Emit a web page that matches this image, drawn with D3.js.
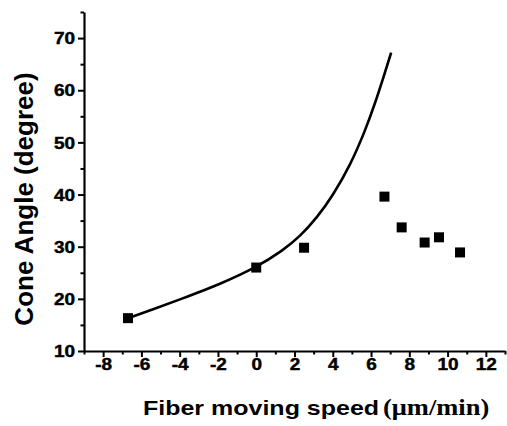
<!DOCTYPE html>
<html>
<head>
<meta charset="utf-8">
<script src="https://cdn.jsdelivr.net/npm/d3@7"></script>
<style>
  body { margin: 0; background: #fff; }
  svg { display: block; }
  .axis path, .axis line { stroke: #000; }
  .axis text { font-family: "Liberation Sans", Arial, sans-serif; font-weight: bold; fill: #000; }
</style>
</head>
<body>
<div class="chart"></div>
<script>
// measured squares
const speed = [-6.7, 0, 2.5, 6.7, 7.6, 8.8, 9.55, 10.65]
const angle = [16.3, 26.0, 29.8, 39.6, 33.7, 30.8, 31.8, 28.9]

// fitted curve
const curveX = [-6.7, -5.4, -3.6, -1.9, 0, 1.4, 2.3, 3.2, 4.0, 4.9, 5.7, 6.2, 6.65, 7.05]
const curveY = [16.3, 18.0, 20.4, 22.8, 26.0, 29.3, 32.0, 35.7, 39.8, 45.5, 52.3, 57.4, 62.5, 67.2]

const xMajor = [-8, -6, -4, -2, 0, 2, 4, 6, 8, 10, 12]
const xMinor = [-9, -7, -5, -3, -1, 1, 3, 5, 7, 9, 11, 13]
const yMajor = [10, 20, 30, 40, 50, 60, 70]
const yMinor = [15, 25, 35, 45, 55, 65, 75]

const width = 507
const height = 426
const margin = { top: 12, right: 2, bottom: 75, left: 84 }

const svg = d3.select(".chart")
    .append("svg")
    .attr("width", width)
    .attr("height", height)

const x = d3.scaleLinear()
    .domain([-9, 13])
    .range([margin.left, width - margin.right])

const y = d3.scaleLinear()
    .domain([10, 75])
    .range([height - margin.bottom, margin.top])

const squash = 0.84

// x axis
const xAxis = svg.append("g")
    .attr("class", "axis")
    .attr("transform", `translate(0,${y(10)})`)
    .call(d3.axisBottom(x).tickValues(xMajor).tickSizeInner(6).tickSizeOuter(0))

xAxis.select(".domain").attr("stroke-width", 2.2)
xAxis.selectAll(".tick line").attr("stroke-width", 2)
xAxis.selectAll(".tick text")
    .attr("font-size", 19)
    .attr("stroke", "#000")
    .attr("stroke-width", 0.5)
    .attr("y", 19.5 / squash)
    .attr("dy", 0)
    .attr("transform", `scale(1,${squash})`)
    .text(d => d < 0 ? "-" + Math.abs(d) : d)

svg.append("g")
    .attr("class", "axis")
    .attr("transform", `translate(0,${y(10)})`)
    .call(d3.axisBottom(x).tickValues(xMinor).tickSizeInner(3.5).tickSizeOuter(0).tickFormat(""))
    .call(g => g.select(".domain").remove())
    .selectAll(".tick line").attr("stroke-width", 2)

// y axis
const yAxis = svg.append("g")
    .attr("class", "axis")
    .attr("transform", `translate(${x(-9)},0)`)
    .call(d3.axisLeft(y).tickValues(yMajor).tickSizeInner(6).tickSizeOuter(0).tickPadding(3))

yAxis.select(".domain").attr("stroke-width", 2.2)
yAxis.selectAll(".tick line").attr("stroke-width", 2)
yAxis.selectAll(".tick text")
    .attr("font-size", 19)
    .attr("stroke", "#000")
    .attr("stroke-width", 0.5)
    .attr("dy", 0)
    .attr("y", 0.36 * 19)
    .attr("transform", `scale(1,${squash})`)

svg.append("g")
    .attr("class", "axis")
    .attr("transform", `translate(${x(-9)},0)`)
    .call(d3.axisLeft(y).tickValues(yMinor).tickSizeInner(3.5).tickSizeOuter(0).tickFormat(""))
    .call(g => g.select(".domain").remove())
    .selectAll(".tick line").attr("stroke-width", 2)

// fitted curve
const line = d3.line()
    .x(d => x(d[0]))
    .y(d => y(d[1]))
    .curve(d3.curveBasis)

svg.append("path")
    .datum(d3.zip(curveX, curveY))
    .attr("d", line)
    .attr("fill", "none")
    .attr("stroke", "#000")
    .attr("stroke-width", 2.6)

// data squares
const s = 10
svg.append("g")
    .selectAll("rect")
    .data(d3.zip(speed, angle))
    .join("rect")
    .attr("x", d => x(d[0]) - s / 2)
    .attr("y", d => y(d[1]) - s / 2)
    .attr("width", s)
    .attr("height", s)
    .attr("fill", "#000")

// axis titles
svg.append("text")
    .attr("transform", `translate(143,415) scale(1,${squash})`)
    .attr("font-family", "Liberation Sans, Arial, sans-serif")
    .attr("font-weight", "bold")
    .attr("font-size", 25)
    .text("Fiber moving speed")

svg.append("text")
    .attr("transform", `translate(383,415) scale(1,${squash})`)
    .attr("font-family", "Liberation Serif, Times New Roman, serif")
    .attr("font-weight", "bold")
    .attr("font-size", 26.5)
    .text("(\u03bcm/min)")

svg.append("text")
    .attr("transform", "translate(33,199) rotate(-90)")
    .attr("text-anchor", "middle")
    .attr("font-family", "Liberation Sans, Arial, sans-serif")
    .attr("font-weight", "bold")
    .attr("font-size", 26)
    .text("Cone Angle (degree)")
</script>
</body>
</html>
